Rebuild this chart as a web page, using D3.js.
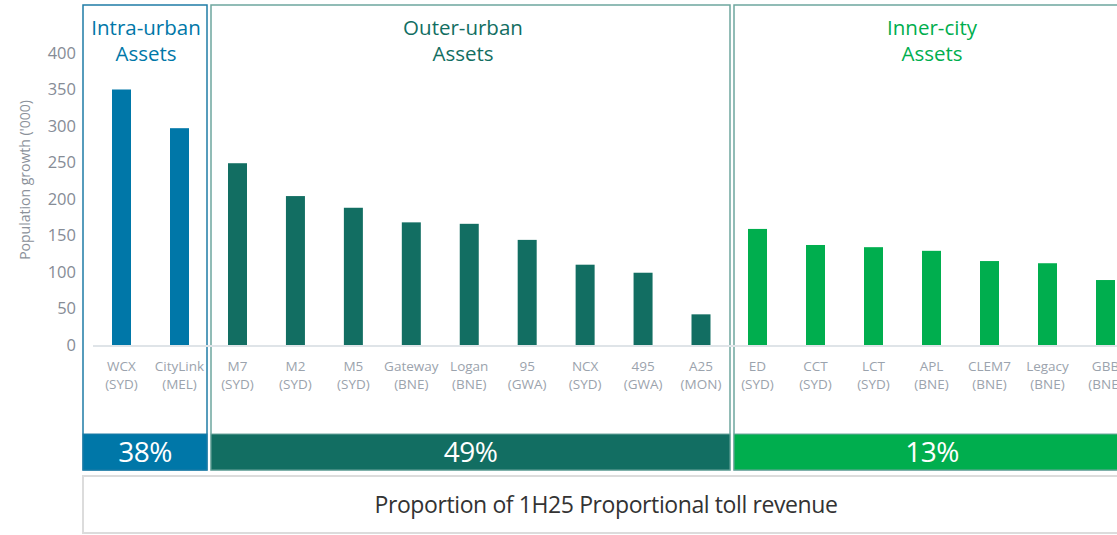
<!DOCTYPE html>
<html>
<head>
<meta charset="utf-8">
<script src="https://cdn.jsdelivr.net/npm/d3@7"></script>
<style>
  html, body { margin: 0; padding: 0; background: #fff; }
  svg { display: block; font-family: 'Open Sans', sans-serif; }
</style>
</head>
<body>
<div class="chart"></div>
<script>
// values
const assets = ['WCX', 'CityLink', 'M7', 'M2', 'M5', 'Gateway', 'Logan', '95', 'NCX', '495', 'A25',
  'ED', 'CCT', 'LCT', 'APL', 'CLEM7', 'Legacy', 'GBB'];
const cities = ['SYD', 'MEL', 'SYD', 'SYD', 'SYD', 'BNE', 'BNE', 'GWA', 'SYD', 'GWA', 'MON',
  'SYD', 'SYD', 'SYD', 'BNE', 'BNE', 'BNE', 'BNE'];
const growth = [350, 297, 249, 204, 188, 168, 166, 144, 110, 99, 42,
  159, 137, 134, 129, 115, 112, 89];
const assetGroup = [0, 0, 1, 1, 1, 1, 1, 1, 1, 1, 1, 2, 2, 2, 2, 2, 2, 2];
const groupNames = [['Intra-urban', 'Assets'], ['Outer-urban', 'Assets'], ['Inner-city', 'Assets']];
const revenueShare = ['38%', '49%', '13%'];
const yTicks = [0, 50, 100, 150, 200, 250, 300, 350, 400];
const yLabel = "Population growth ('000)";
const footer = 'Proportion of 1H25 Proportional toll revenue';

const width = 1117;
const height = 535;

const colors = ['#0077a8', '#126e62', '#00ae4e'];
const borders = ['#1f7ca6', '#6ea69e', '#6ea69e'];

// panel boxes and where the bars sit inside them
const panels = [
  { x0: 83, x1: 207, bars: [121.5, 179.5], title: 146 },
  { x0: 211, x1: 730, bars: [237.5, 701], title: 463 },
  { x0: 734, x1: 1130, bars: [757.5, 1105.5], title: 932 },
];

const barWidth = 19;

const yScale = d3.scaleLinear()
  .domain([0, 400])
  .range([345, 53]);

const svg = d3.select('.chart').append('svg')
  .attr('width', width)
  .attr('height', height);

// group frames
svg.selectAll('rect.frame')
  .data(panels)
  .enter().append('rect')
  .attr('class', 'frame')
  .attr('x', (d) => d.x0)
  .attr('y', 5)
  .attr('width', (d) => d.x1 - d.x0)
  .attr('height', 465)
  .attr('fill', 'none')
  .attr('stroke', (d, i) => borders[i])
  .attr('stroke-width', 1.5);

// baseline
svg.append('line')
  .attr('x1', 93)
  .attr('x2', width)
  .attr('y1', yScale(0) + 1)
  .attr('y2', yScale(0) + 1)
  .attr('stroke', '#dfe4e8')
  .attr('stroke-width', 2);

// y axis
const yAxis = svg.append('g')
  .attr('class', 'y axis')
  .attr('transform', 'translate(76, 0)')
  .call(d3.axisLeft(yScale).tickValues(yTicks).tickSize(0).tickPadding(0));

yAxis.select('.domain').remove();
yAxis.selectAll('text')
  .attr('fill', '#868c96')
  .style('font-size', '16.5px')
  .style('font-family', "'Open Sans', sans-serif");

svg.append('text')
  .attr('transform', 'translate(30, 180) rotate(-90)')
  .attr('text-anchor', 'middle')
  .attr('fill', '#8b919a')
  .style('font-size', '14px')
  .text(yLabel);

// one point scale per group
const xScales = panels.map((p, g) => {
  const names = assets.filter((a, i) => assetGroup[i] === g);
  return d3.scalePoint().domain(names).range(p.bars);
});

const rows = assets.map((a, i) => ({ asset: a, city: cities[i], value: growth[i], group: assetGroup[i] }));
const xPos = (d) => xScales[d.group](d.asset);

svg.selectAll('rect.bar')
  .data(rows)
  .enter().append('rect')
  .attr('class', 'bar')
  .attr('x', (d) => xPos(d) - barWidth / 2)
  .attr('y', (d) => yScale(d.value))
  .attr('width', barWidth)
  .attr('height', (d) => yScale(0) - yScale(d.value))
  .attr('fill', (d) => colors[d.group]);

// category labels
const labels = svg.selectAll('text.cat')
  .data(rows)
  .enter().append('text')
  .attr('class', 'cat')
  .attr('text-anchor', 'middle')
  .attr('fill', '#9ba3ad')
  .style('font-size', '13.5px');

labels.append('tspan')
  .attr('x', xPos)
  .attr('y', 371)
  .text((d) => d.asset);

labels.append('tspan')
  .attr('x', xPos)
  .attr('y', 389)
  .text((d) => `(${d.city})`);

// group titles
panels.forEach((p, g) => {
  const t = svg.append('text')
    .attr('text-anchor', 'middle')
    .attr('fill', colors[g])
    .style('font-size', '20.5px');
  groupNames[g].forEach((line, k) => {
    t.append('tspan')
      .attr('x', p.title)
      .attr('y', 35 + k * 26)
      .text(line);
  });
});

// revenue share band
svg.selectAll('rect.share')
  .data(panels)
  .enter().append('rect')
  .attr('class', 'share')
  .attr('x', (d) => d.x0)
  .attr('y', 434)
  .attr('width', (d) => d.x1 - d.x0)
  .attr('height', 36)
  .attr('fill', (d, i) => colors[i])
  .attr('stroke', (d, i) => borders[i])
  .attr('stroke-width', 1);

svg.selectAll('text.share')
  .data(panels)
  .enter().append('text')
  .attr('class', 'share')
  .attr('x', (d) => (d.x0 + d.x1) / 2)
  .attr('y', 462)
  .attr('text-anchor', 'middle')
  .attr('fill', '#fff')
  .style('font-size', '28px')
  .style('letter-spacing', '-0.5px')
  .text((d, i) => revenueShare[i]);

// footer box
svg.append('rect')
  .attr('x', 83)
  .attr('y', 476)
  .attr('width', 1047)
  .attr('height', 57)
  .attr('fill', '#fff')
  .attr('stroke', '#dcdcdc')
  .attr('stroke-width', 2);

svg.append('text')
  .attr('x', 606)
  .attr('y', 513)
  .attr('text-anchor', 'middle')
  .attr('fill', '#333')
  .style('font-size', '23px')
  .style('letter-spacing', '-0.4px')
  .text(footer);
</script>
</body>
</html>
